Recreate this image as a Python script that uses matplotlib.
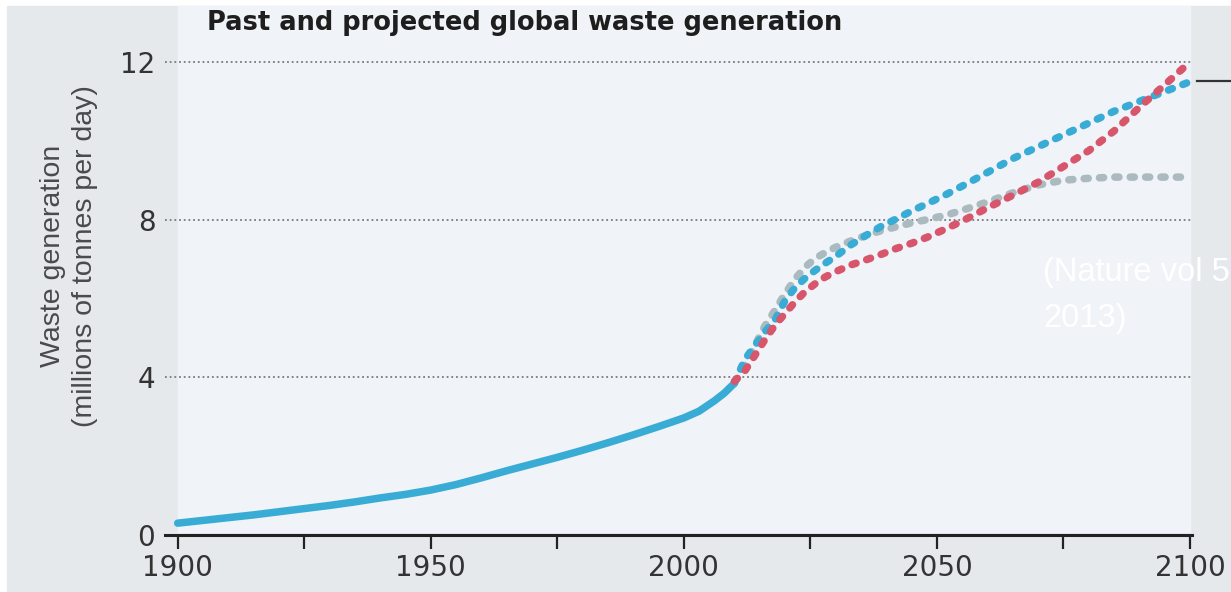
"""
Past and projected global waste generation (Nature vol 502, 2013)
"""
import numpy as np
import matplotlib.pyplot as plt
from matplotlib.patches import Rectangle
from matplotlib.lines import Line2D

# historic waste generation (millions of tonnes per day)
hist_years = [1900, 1905, 1910, 1915, 1920, 1925, 1930, 1935, 1940, 1945, 1950, 1955,
              1960, 1965, 1970, 1975, 1980, 1985, 1990, 1995, 2000, 2003, 2006, 2008, 2010]
hist_vals = [0.30, 0.37, 0.44, 0.51, 0.59, 0.67, 0.75, 0.84, 0.94, 1.03, 1.14, 1.28,
             1.45, 1.63, 1.80, 1.97, 2.15, 2.34, 2.54, 2.75, 2.97, 3.14, 3.40, 3.60, 3.85]

# projections from 2010
proj_years = [2010, 2012, 2014, 2016, 2018, 2020, 2022, 2024, 2026, 2028, 2030, 2033,
              2036, 2039, 2042, 2045, 2048, 2052, 2056, 2060, 2065, 2070, 2075, 2080,
              2085, 2090, 2095, 2100]
proj_blue = [3.85, 4.44, 4.80, 5.15, 5.45, 5.95, 6.28, 6.52, 6.72, 6.90, 7.07, 7.36,
             7.60, 7.83, 8.02, 8.22, 8.40, 8.65, 8.92, 9.20, 9.55, 9.85, 10.15, 10.45,
             10.75, 11.00, 11.25, 11.50]
proj_red = [3.90, 4.15, 4.55, 4.95, 5.32, 5.62, 5.92, 6.18, 6.38, 6.55, 6.68, 6.85,
            6.98, 7.12, 7.27, 7.40, 7.55, 7.78, 8.03, 8.30, 8.62, 8.95, 9.35, 9.75,
            10.25, 10.85, 11.42, 12.00]
proj_grey = [3.88, 4.30, 4.80, 5.30, 5.70, 6.12, 6.50, 6.80, 7.02, 7.17, 7.30, 7.46,
             7.60, 7.72, 7.82, 7.92, 8.00, 8.12, 8.28, 8.45, 8.68, 8.88, 9.00, 9.05,
             9.08, 9.08, 9.08, 9.08]

BLUE = "#38acd5"
RED = "#d7566c"
GREY = "#abbabf"

fig = plt.figure(figsize=(12.31, 5.92), dpi=100, facecolor="white")

# background panels
fig.patches.append(Rectangle((7 / 1231, 0), 1, 1 - 6 / 592, transform=fig.transFigure,
                             color="#e6e9ec", zorder=-2))
fig.patches.append(Rectangle((178 / 1231, 60 / 592), 1012 / 1231, 526 / 592,
                             transform=fig.transFigure, color="#f0f3f7", zorder=-1))

ax = fig.add_axes([165 / 1231, 57 / 592, 1027 / 1231, 473 / 592])
ax.set_facecolor("none")

ax.plot(hist_years, hist_vals, color=BLUE, lw=5.4, solid_capstyle="round", zorder=3)

dots = dict(lw=5.4, linestyle=(0, (0.55, 1.5)), dash_capstyle="round", clip_on=False)
ax.plot(proj_years, proj_grey, color=GREY, zorder=4, **dots)
ax.plot(proj_years, proj_blue, color=BLUE, zorder=5, **dots)
ax.plot(proj_years, proj_red, color=RED, zorder=6, **dots)

ax.set_xlim(1897.5, 2100.4)
ax.set_ylim(0, 12)

for v in [4, 8, 12]:
    ax.axhline(v, color="#7a7a7a", lw=1.3, linestyle=(0, (1, 1.6)), zorder=1, clip_on=False)

for s in ["top", "right", "left"]:
    ax.spines[s].set_visible(False)
ax.spines["bottom"].set_linewidth(2.2)
ax.spines["bottom"].set_color("#222222")

ax.set_xticks(np.arange(1900, 2101, 25))
ax.set_xticklabels(["1900", "", "1950", "", "2000", "", "2050", "", "2100"])
ax.tick_params(axis="x", direction="out", length=10, width=1.6, color="#222222",
               labelsize=20, labelcolor="#333333", pad=4)
ax.set_yticks([0, 4, 8, 12])
ax.tick_params(axis="y", length=0, labelsize=20, labelcolor="#333333", pad=7)

fig.text(207 / 1231, 1 - 23 / 592, "Past and projected global waste generation",
         fontsize=18.5, fontweight="bold", color="#1e1e1e", va="center", ha="left")

fig.text(69 / 1231, 1 - 256 / 592, "Waste generation\n(millions of tonnes per day)",
         rotation=90, ha="center", va="center", multialignment="center",
         fontsize=20.5, family="Liberation Sans", color="#4a4a4a", linespacing=1.3)

# source note, cut by the right edge as in the original screenshot
fig.text(1043 / 1231, 1 - 272 / 592, "(Nature vol 502,", fontsize=23.5,
         family="Liberation Sans", color="white", va="center", ha="left")
fig.text(1043 / 1231, 1 - 318 / 592, "2013)", fontsize=23.5,
         family="Liberation Sans", color="white", va="center", ha="left")

fig.lines.append(Line2D([1197 / 1231, 1], [1 - 81 / 592, 1 - 81 / 592],
                        transform=fig.transFigure, color="#333333", lw=1.6))

fig.savefig("out.png", dpi=100, facecolor=fig.get_facecolor())
